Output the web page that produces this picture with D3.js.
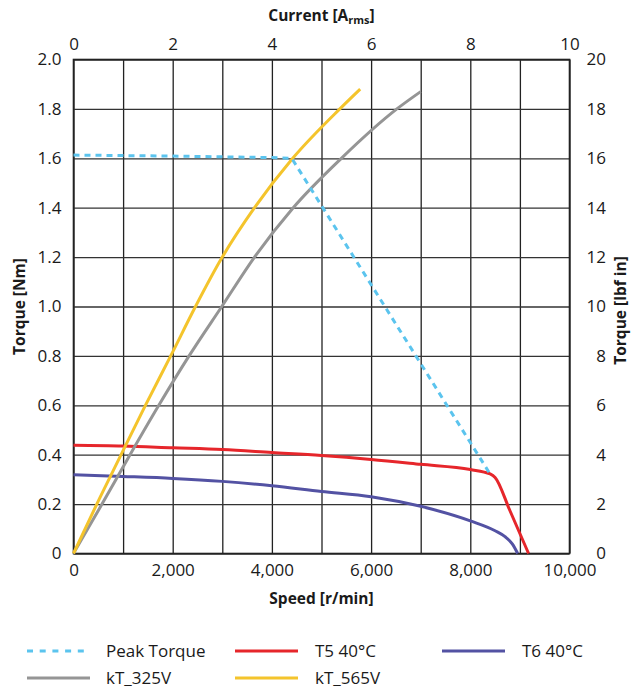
<!DOCTYPE html>
<html>
<head>
<meta charset="utf-8">
<script src="https://cdn.jsdelivr.net/npm/d3@7"></script>
<style>
  html, body { margin: 0; padding: 0; background: #fff; }
  svg { display: block; }
  text { font-family: "Open Sans", "Noto Sans", sans-serif; fill: #1a1a1a; }
</style>
</head>
<body>
<svg id="chart" width="641" height="695"></svg>
<script>
// ---- data ----
const speedTicks = [0, 2000, 4000, 6000, 8000, 10000];
const currentTicks = [0, 2, 4, 6, 8, 10];
const torqueTicks = [0, 0.2, 0.4, 0.6, 0.8, 1.0, 1.2, 1.4, 1.6, 1.8, 2.0];
const lbfTicks = [0, 2, 4, 6, 8, 10, 12, 14, 16, 18, 20];

const peakSpeed  = [0, 2000, 4000, 4400, 8420];
const peakTorque = [1.613, 1.609, 1.603, 1.600, 0.315];

const t5Speed  = [0, 1000, 2000, 3000, 4000, 5000, 6000, 7000, 8000, 8400, 8500, 8800, 9175];
const t5Torque = [0.438, 0.435, 0.428, 0.421, 0.409, 0.397, 0.381, 0.361, 0.340, 0.322, 0.308, 0.173, 0];

const t6Speed  = [0, 1000, 2000, 3000, 4000, 5000, 6000, 7000, 8000, 8500, 8700, 8850, 8955];
const t6Torque = [0.319, 0.312, 0.304, 0.292, 0.274, 0.251, 0.230, 0.191, 0.132, 0.092, 0.068, 0.038, 0];

const kt325Speed  = [0, 575, 1140, 1720, 2330, 2990, 3650, 4430, 5400, 6520, 7000];
const kt325Torque = [0, 0.2, 0.4, 0.6, 0.8, 1.0, 1.2, 1.4, 1.6, 1.8, 1.87];

const kt565Speed  = [0, 470, 960, 1450, 1960, 2460, 3000, 3650, 4420, 5370, 5780];
const kt565Torque = [0, 0.2, 0.4, 0.6, 0.8, 1.0, 1.2, 1.4, 1.6, 1.8, 1.88];

const seriesNames  = ["Peak Torque", "T5 40°C", "T6 40°C", "kT_325V", "kT_565V"];
const seriesColors = ["#5bc4ee", "#e6262b", "#5352a3", "#959595", "#f4c42c"];

// ---- layout ----
const svg = d3.select("#chart");
const L = 73.5, R = 569.5, T = 59.5, B = 553.5;

const x = d3.scaleLinear().domain([0, 10000]).range([L, R]);
const xTop = d3.scaleLinear().domain([0, 10]).range([L, R]);
const y = d3.scaleLinear().domain([0, 2.0]).range([B, T]);
const yR = d3.scaleLinear().domain([0, 20]).range([B, T]);

// grid
const gridX = d3.range(0, 10001, 1000);
const gridY = d3.range(0, 2.01, 0.2);
svg.append("g").attr("transform", `translate(0,${B})`)
  .call(d3.axisBottom(x).tickValues(gridX).tickSize(-(B - T)).tickFormat(""))
  .call(g => g.select(".domain").remove())
  .call(g => g.selectAll("line").attr("stroke", "#222").attr("stroke-width", 1.3));
svg.append("g").attr("transform", `translate(${L},0)`)
  .call(d3.axisLeft(y).tickValues(gridY).tickSize(-(R - L)).tickFormat(""))
  .call(g => g.select(".domain").remove())
  .call(g => g.selectAll("line").attr("stroke", "#333").attr("stroke-width", 1.3));

// frame
svg.append("rect").attr("x", L).attr("y", T).attr("width", R - L).attr("height", B - T)
  .attr("fill", "none").attr("stroke", "#222").attr("stroke-width", 1.6);

// axes labels
function styleAxis(g) {
  g.select(".domain").remove();
  g.selectAll("line").remove();
  g.selectAll("text").attr("font-size", 17).attr("fill", "#1a1a1a")
    .attr("font-family", "'Open Sans', sans-serif");
}
svg.append("g").attr("transform", `translate(0,${B})`)
  .call(d3.axisBottom(x).tickValues(speedTicks).tickSize(0).tickPadding(10)
    .tickFormat(d3.format(",")))
  .call(styleAxis);
svg.append("g").attr("transform", `translate(0,${T})`)
  .call(d3.axisTop(xTop).tickValues(currentTicks).tickSize(0).tickPadding(10)
    .tickFormat(d3.format("d")))
  .call(styleAxis);
svg.append("g").attr("transform", `translate(${L},0)`)
  .call(d3.axisLeft(y).tickValues(torqueTicks).tickSize(0).tickPadding(12)
    .tickFormat(d => d === 0 ? "0" : d3.format(".1f")(d)))
  .call(styleAxis);
svg.append("g").attr("transform", `translate(606,0)`)
  .call(d3.axisLeft(yR).tickValues(lbfTicks).tickSize(0).tickPadding(0)
    .tickFormat(d3.format("d")))
  .call(styleAxis);

// axis titles
const titleFont = { size: 15.5, weight: 700 };
svg.append("text").attr("x", (L + R) / 2).attr("y", 604)
  .attr("text-anchor", "middle").attr("font-size", titleFont.size).attr("font-weight", titleFont.weight)
  .text("Speed [r/min]");
const ct = svg.append("text").attr("x", (L + R) / 2).attr("y", 21)
  .attr("text-anchor", "middle").attr("font-size", titleFont.size).attr("font-weight", titleFont.weight);
ct.append("tspan").text("Current [A");
ct.append("tspan").attr("font-size", 11).attr("dy", 3).text("rms");
ct.append("tspan").attr("dy", -3).text("]");
svg.append("text").attr("transform", `translate(25,${(T + B) / 2}) rotate(-90)`)
  .attr("text-anchor", "middle").attr("font-size", titleFont.size).attr("font-weight", titleFont.weight)
  .text("Torque [Nm]");
svg.append("text").attr("transform", `translate(626,${(T + B) / 2 + 4}) rotate(-90)`)
  .attr("text-anchor", "middle").attr("font-size", titleFont.size).attr("font-weight", titleFont.weight)
  .text("Torque [lbf in]");

// series
const clipG = svg.append("g");
function drawSeries(xs, ys, color, curve, dash) {
  const pts = xs.map((s, i) => [s, ys[i]]);
  const line = d3.line().x(d => x(d[0])).y(d => y(d[1])).curve(curve);
  const p = clipG.append("path").datum(pts).attr("d", line)
    .attr("fill", "none").attr("stroke", color).attr("stroke-width", 3)
    .attr("stroke-linejoin", "round");
  if (dash) p.attr("stroke-dasharray", dash);
  return p;
}
drawSeries(t6Speed, t6Torque, seriesColors[2], d3.curveMonotoneX);
drawSeries(t5Speed, t5Torque, seriesColors[1], d3.curveMonotoneX);
drawSeries(kt325Speed, kt325Torque, seriesColors[3], d3.curveMonotoneX);
drawSeries(kt565Speed, kt565Torque, seriesColors[4], d3.curveMonotoneX);
drawSeries(peakSpeed, peakTorque, seriesColors[0], d3.curveLinear, "6,5");

// legend
const legendItems = [
  { i: 0, lx: 27, tx: 106, y: 651, w: 59 },
  { i: 1, lx: 235, tx: 315, y: 651, w: 63 },
  { i: 2, lx: 442, tx: 522, y: 651, w: 63 },
  { i: 3, lx: 27, tx: 106, y: 678, w: 63 },
  { i: 4, lx: 235, tx: 315, y: 678, w: 63 }
];
const lg = svg.append("g");
legendItems.forEach(it => {
  const ln = lg.append("line").attr("x1", it.lx).attr("x2", it.lx + it.w)
    .attr("y1", it.y).attr("y2", it.y)
    .attr("stroke", seriesColors[it.i]).attr("stroke-width", 3);
  if (it.i === 0) ln.attr("stroke-dasharray", "6,6.7");
  lg.append("text").attr("x", it.tx).attr("y", it.y + 6).attr("font-size", 17)
    .text(seriesNames[it.i]);
});
</script>
</body>
</html>
